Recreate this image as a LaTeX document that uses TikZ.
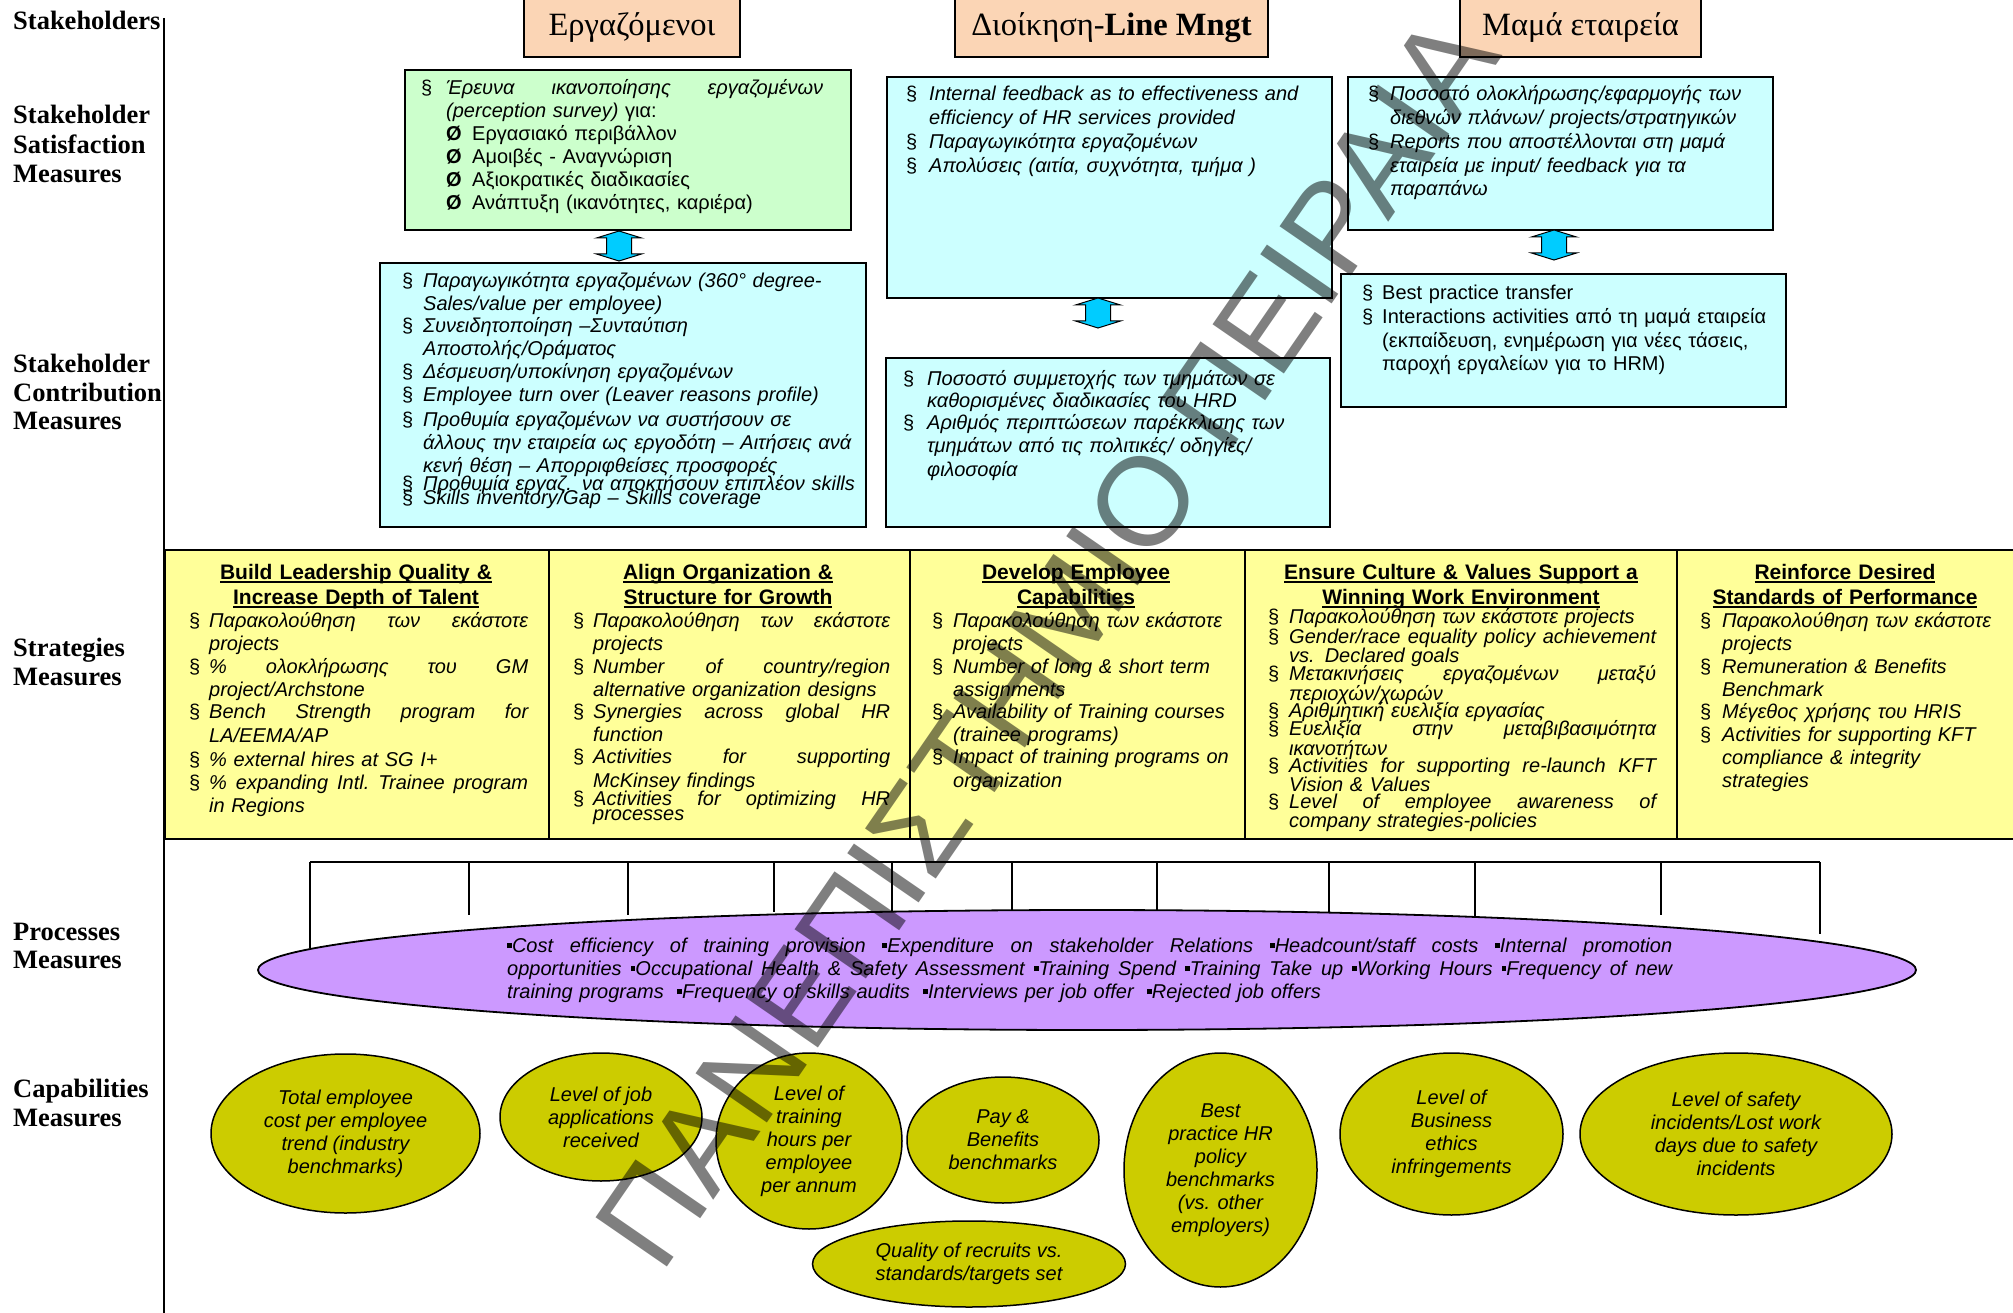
\documentclass[tikz,border=0pt]{standalone}
\usepackage{fontspec}
\setmainfont{Liberation Serif}
\newfontfamily\af{Liberation Sans}
\newfontfamily\wmf{Liberation Sans}
\usetikzlibrary{shapes.geometric}

\definecolor{peach}{RGB}{251,213,181}
\definecolor{mint}{RGB}{204,255,204}
\definecolor{pale}{RGB}{204,255,255}
\definecolor{lemon}{RGB}{255,255,153}
\definecolor{lilac}{RGB}{204,153,255}
\definecolor{olive}{RGB}{204,204,0}
\definecolor{sky}{RGB}{0,204,255}

% section-sign bullet hanging left of the item text
\newcommand\bul[1][21]{\leavevmode\llap{\makebox[#1pt][l]{\upshape §}}}
% a line spread to a given width (in pt)
\newcommand\jl[2]{\leavevmode\hbox to #1pt{\spaceskip=0.28em plus 1fil\relax #2}}
% small square bullet
\newcommand\sq{\raisebox{0.2em}{\rule{0.24em}{0.24em}}}
% heading underline
\newcommand\ul[1]{\leavevmode\setbox0\hbox{#1}\rlap{\rule[-3.5pt]{\wd0}{1.6pt}}\box0}
\newcommand\bodyfont[1][23]{\af\itshape\fontsize{20}{#1}\selectfont}
\newcommand\uprfont[1][23]{\af\upshape\fontsize{20}{#1}\selectfont}
% double-headed block arrow centred at (#2,#3)
\newcommand\dblarrow[3]{%
  \coordinate (#1) at (#2,#3);
  \draw[dbl, shift={(#1)}] (-12.5,-8) -- (-22.5,-8) -- (0,-15) -- (22.5,-8) -- (12.5,-8)
     -- (12.5,8) -- (22.5,8) -- (0,15) -- (-22.5,8) -- (-12.5,8) -- cycle;}

\tikzset{
  box/.style={draw=black, line width=1.6pt, inner sep=0pt, anchor=north west},
  itm/.style={inner sep=0pt, anchor=base west, align=left, text width=#1, font=\bodyfont},
  itm/.default=600pt,
  lbl/.style={inner sep=0pt, anchor=base west, align=left, text width=200pt,
    font=\bfseries\fontsize{26.5}{29.5}\selectfont},
  hdr/.style={draw=black, line width=1.6pt, fill=peach, inner sep=0pt},
  hdrtxt/.style={inner sep=0pt, anchor=base, font=\fontsize{32.5}{34}\selectfont},
  hdtxt/.style={inner sep=0pt, anchor=base, align=center, text width=#1,
    font=\af\bfseries\fontsize{21}{25}\selectfont},
  capell/.style={ellipse, draw=black, line width=1.5pt, fill=olive, inner sep=0pt,
    align=center, font=\bodyfont},
  dbl/.style={draw=black, line width=1pt, fill=sky},
  tree/.style={line width=1.4pt},
  wm/.style={inner sep=0pt, rotate=55.4, text=black, text opacity=0.5,
    font=\wmf\fontsize{126}{126}\selectfont}
}

\begin{document}
\begin{tikzpicture}[x=1pt, y=-1pt]
\useasboundingbox (0,0) rectangle (2013,1313);
\fill[white] (0,0) rectangle (2013,1313);

% left axis and row labels
\coordinate (axT) at (164,18);
\coordinate (axB) at (164,1313);
\draw[line width=1.5pt] (axT) -- (axB);
\node[lbl] (lblA) at (13,30) {Stakeholders};
\node[lbl] (lblB) at (13,124) {Stakeholder\\Satisfaction\\Measures};
\node[lbl] (lblC) at (13,373) {Stakeholder\\[-1pt]Contribution\\[-1pt]Measures};
\node[lbl] (lblD) at (13,656) {Strategies\\Measures};
\node[lbl] (lblE) at (13,940) {Processes\\[-1pt]Measures};
\node[lbl] (lblF) at (13,1097) {Capabilities\\Measures};

% stakeholders
\node[hdr, minimum width=216, minimum height=62] (hdrA) at (632,26) {};
\node[hdr, minimum width=313, minimum height=62] (hdrB) at (1111.5,26) {};
\node[hdr, minimum width=241, minimum height=62] (hdrC) at (1580.5,26) {};
\node[hdrtxt] (hdrAt) at (632,36) {Εργαζόμενοι};
\node[hdrtxt] (hdrBt) at (1111.5,36) {Διοίκηση-\textbf{Line Mngt}};
\node[hdrtxt] (hdrCt) at (1580.5,36) {Μαμά εταιρεία};

% satisfaction measures
\node[box, fill=mint, minimum width=446, minimum height=160] (satA) at (404,69) {};
\node[itm=377pt] (satA1) at (446,95) {\bul[25]\jl{377}{Έρευνα ικανοποίησης εργαζομένων}\\(perception survey) \upshape για:};
\node[itm, font={\uprfont}] (satA2) at (446,141) {\makebox[26pt][l]{\bfseries Ø}Εργασιακό περιβάλλον\\
  \makebox[26pt][l]{\bfseries Ø}Αμοιβές - Αναγνώριση\\
  \makebox[26pt][l]{\bfseries Ø}Αξιοκρατικές διαδικασίες\\
  \makebox[26pt][l]{\bfseries Ø}Ανάπτυξη (ικανότητες, καριέρα)};

\node[box, fill=pale, minimum width=445, minimum height=221] (satB) at (886,76) {};
\node[itm, font={\bodyfont[24]}] (satB1) at (929,101) {\bul[23]Internal feedback as to effectiveness and\\efficiency of HR services provided};
\node[itm] (satB2) at (929,149) {\bul[23]Παραγωγικότητα εργαζομένων};
\node[itm] (satB3) at (929,173) {\bul[23]Απολύσεις (αιτία, συχνότητα, τμήμα )};

\node[box, fill=pale, minimum width=425, minimum height=153] (satC) at (1347,76) {};
\node[itm, font={\bodyfont[24]}] (satC1) at (1390,101) {\bul[22]Ποσοστό ολοκλήρωσης/εφαρμογής των\\διεθνών πλάνων/ projects/στρατηγικών};
\node[itm, font={\bodyfont[23.5]}] (satC2) at (1390,149) {\bul[22]Reports που αποστέλλονται στη μαμά\\εταιρεία με input/ feedback για τα\\παραπάνω};

% contribution measures
\node[box, fill=pale, minimum width=486, minimum height=264] (conA) at (379,262) {};
\node[itm, font={\bodyfont[22.5]}] (conA1) at (423,288) {\bul Παραγωγικότητα εργαζομένων (360° degree-\\Sales/value per employee)};
\node[itm, font={\bodyfont[22.5]}] (conA2) at (423,333) {\bul Συνειδητοποίηση –Συνταύτιση\\Αποστολής/Οράματος};
\node[itm] (conA3) at (423,379) {\bul Δέσμευση/υποκίνηση εργαζομένων};
\node[itm] (conA4) at (423,402) {\bul Employee turn over (Leaver reasons profile)};
\node[itm, font={\bodyfont[23]}] (conA5) at (423,426) {\bul Προθυμία εργαζομένων να συστήσουν σε\\άλλους την εταιρεία ως εργοδότη – Αιτήσεις ανά\\κενή θέση – Απορριφθείσες προσφορές};
\node[itm] (conA6) at (423,490) {\bul Προθυμία εργαζ. να αποκτήσουν επιπλέον skills};
\node[itm] (conA7) at (423,504) {\bul Skills inventory/Gap – Skills coverage};

\node[box, fill=pale, minimum width=444, minimum height=169] (conB) at (885,357) {};
\node[itm, font={\bodyfont[22]}] (conB1) at (927,385) {\bul[24]Ποσοστό συμμετοχής των τμημάτων σε\\καθορισμένες διαδικασίες του HRD};
\node[itm, font={\bodyfont[23.5]}] (conB2) at (927,429) {\bul[24]Αριθμός περιπτώσεων παρέκκλισης των\\τμημάτων από τις πολιτικές/ οδηγίες/\\φιλοσοφία};

\node[box, fill=pale, minimum width=445, minimum height=133] (conC) at (1340,273) {};
\node[itm, font={\uprfont}] (conC1) at (1382,300) {\bul[20]Best practice transfer};
\node[itm, font={\uprfont[23.5]}] (conC2) at (1382,324) {\bul[20]Interactions activities από τη μαμά εταιρεία\\(εκπαίδευση, ενημέρωση για νέες τάσεις,\\παροχή εργαλείων για το HRM)};

% links between satisfaction and contribution
\dblarrow{arrA}{619}{246}
\dblarrow{arrB}{1098}{313}
\dblarrow{arrC}{1554}{245}

% strategies table
\node[box, fill=lemon, minimum width=384, minimum height=289, line width=1.8pt] (st1) at (164,549) {};
\node[box, fill=lemon, minimum width=361, minimum height=289, line width=1.8pt] (st2) at (548,549) {};
\node[box, fill=lemon, minimum width=335, minimum height=289, line width=1.8pt] (st3) at (909,549) {};
\node[box, fill=lemon, minimum width=432, minimum height=289, line width=1.8pt] (st4) at (1244,549) {};
\node[box, fill=lemon, minimum width=360, minimum height=289, line width=1.8pt] (st5) at (1676,549) {};

\node[hdtxt=384pt] (h1) at (356,579) {\ul{Build Leadership Quality \&}\\\ul{Increase Depth of Talent}};
\node[hdtxt=361pt] (h2) at (728,579) {\ul{Align Organization \&}\\\ul{Structure for Growth}};
\node[hdtxt=335pt] (h3) at (1076,579) {\ul{Develop Employee}\\\ul{Capabilities}};
\node[hdtxt=432pt] (h4) at (1461,579) {\ul{Ensure Culture \& Values Support a}\\\ul{Winning Work Environment}};
\node[hdtxt=350pt] (h5) at (1845,579) {\ul{Reinforce Desired}\\\ul{Standards of Performance}};

\node[itm=319pt] (c1a) at (209,627) {\bul[20]\jl{319}{Παρακολούθηση των εκάστοτε}\\projects};
\node[itm=319pt] (c1b) at (209,673) {\bul[20]\jl{319}{\% ολοκλήρωσης του GM}\\project/Archstone};
\node[itm=319pt, font={\bodyfont[24]}] (c1c) at (209,718) {\bul[20]\jl{319}{Bench Strength program for}\\LA/EEMA/AP};
\node[itm=319pt] (c1d) at (209,766) {\bul[20]\% external hires at SG I+};
\node[itm=319pt] (c1e) at (209,789) {\bul[20]\jl{319}{\% expanding Intl.\ Trainee program}\\in Regions};

\node[itm=297pt] (c2a) at (593,627) {\bul[20]\jl{297}{Παρακολούθηση των εκάστοτε}\\projects};
\node[itm=297pt] (c2b) at (593,673) {\bul[20]\jl{297}{Number of country/region}\\alternative organization designs};
\node[itm=297pt] (c2c) at (593,718) {\bul[20]\jl{297}{Synergies across global HR}\\function};
\node[itm=297pt, font={\bodyfont[24]}] (c2d) at (593,763) {\bul[20]\jl{297}{Activities for supporting}\\McKinsey findings};
\node[itm=297pt, font={\bodyfont[15]}] (c2e) at (593,805) {\bul[20]\jl{297}{Activities for optimizing HR}\\processes};

\node[itm] (c3a) at (953,627) {\bul Παρακολούθηση των εκάστοτε\\projects};
\node[itm] (c3b) at (953,673) {\bul Number of long \& short term\\assignments};
\node[itm] (c3c) at (953,718) {\bul Availability of Training courses\\(trainee programs)};
\node[itm, font={\bodyfont[24]}] (c3d) at (953,763) {\bul Impact of training programs on\\organization};

\node[itm=367pt] (c4a) at (1289,623) {\bul Παρακολούθηση των εκάστοτε projects};
\node[itm=367pt, font={\bodyfont[17]}] (c4b) at (1289,643) {\bul\jl{367}{Gender/race equality policy achievement}\\vs. Declared goals};
\node[itm=367pt, font={\bodyfont[17]}] (c4c) at (1289,680) {\bul\jl{367}{Μετακινήσεις εργαζομένων μεταξύ}\\περιοχών/χωρών};
\node[itm=367pt] (c4d) at (1289,717) {\bul Αριθμητική ευελιξία εργασίας};
\node[itm=367pt, font={\bodyfont[18]}] (c4e) at (1289,735) {\bul\jl{367}{Ευελιξία στην μεταβιβασιμότητα}\\ικανοτήτων};
\node[itm=367pt, font={\bodyfont[19]}] (c4f) at (1289,772) {\bul\jl{367}{Activities for supporting re-launch KFT}\\Vision \& Values};
\node[itm=367pt, font={\bodyfont[15]}] (c4g) at (1289,808) {\bul\jl{367}{Level of employee awareness of}\\company strategies-policies};

\node[itm] (c5a) at (1722,627) {\bul[22]Παρακολούθηση των εκάστοτε\\projects};
\node[itm] (c5b) at (1722,673) {\bul[22]Remuneration \& Benefits\\Benchmark};
\node[itm] (c5c) at (1722,718) {\bul[22]Μέγεθος χρήσης του HRIS};
\node[itm] (c5d) at (1722,741) {\bul[22]Activities for supporting KFT\\compliance \& integrity\\strategies};

% process measures: comb of links and the ellipse
\coordinate (combL) at (310,862);
\coordinate (combR) at (1820,862);
\draw[tree, line width=1.8pt] (combL) -- (combR);
\foreach \x/\y [count=\i] in {310/948, 469/915, 628/915, 774/912, 892/912, 1012/912,
    1157/911, 1329/912, 1475/918, 1661/915, 1820/934} {
  \coordinate (ct\i) at (\x,862);
  \coordinate (cb\i) at (\x,\y);
  \draw[tree] (ct\i) -- (cb\i);
}
\node[ellipse, draw=black, line width=1.8pt, fill=lilac, minimum width=1658, minimum height=120, inner sep=0pt] (proc) at (1087,970) {};
\node[itm=1165pt] (procT) at (507,952) {\jl{1165}{\sq Cost efficiency of training provision \sq Expenditure on stakeholder Relations \sq Headcount/staff costs \sq Internal promotion}\\
  \jl{1165}{opportunities \sq Occupational Health \& Safety Assessment \sq Training Spend \sq Training Take up \sq Working Hours \sq Frequency of new}\\
  training programs \ \sq Frequency of skills audits \ \sq Interviews per job offer \ \sq Rejected job offers};

% capability measures
\node[capell, minimum width=269, minimum height=159] (cap1) at (345.5,1133.5) {Total employee\\cost per employee\\trend (industry\\benchmarks)};
\node[capell, minimum width=202, minimum height=128] (cap2) at (601,1117) {Level of job\\applications\\received};
\node[capell, minimum width=186, minimum height=176] (cap3) at (809,1141) {Level of\\training\\hours per\\employee\\per annum};
\node[capell, minimum width=192, minimum height=126] (cap4) at (1003,1140) {Pay \&\\Benefits\\benchmarks};
\node[capell, minimum width=313, minimum height=86] (cap5) at (969,1264) {Quality of recruits vs.\\standards/targets set};
\node[capell, minimum width=193, minimum height=234] (cap6) at (1220.5,1170) {Best\\practice HR\\policy\\benchmarks\\(vs. other\\employers)};
\node[capell, minimum width=223, minimum height=162] (cap7) at (1451.5,1134) {Level of\\Business\\ethics\\infringements};
\node[capell, minimum width=312, minimum height=162] (cap8) at (1736,1134) {Level of safety\\incidents/Lost work\\days due to safety\\incidents};

% watermark
\node[wm] (wmark) at (1047,641) {ΠΑΝΕΠΙΣΤΗΜΙΟ ΠΕΙΡΑΙΑ};
\end{tikzpicture}
\end{document}
